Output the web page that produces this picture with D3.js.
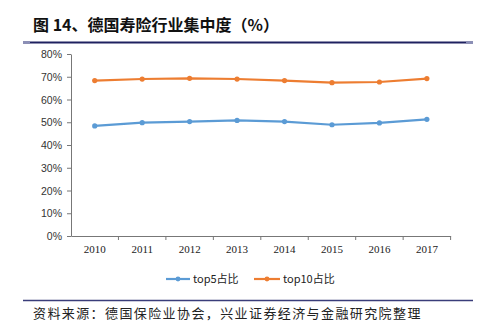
<!DOCTYPE html>
<html><head><meta charset="utf-8">
<script src="https://cdn.jsdelivr.net/npm/d3@7"></script>
<style>body{margin:0;background:#fff}svg{display:block}</style>
</head><body><svg id="c" width="483" height="328"></svg>
<script>
const years = ["2010","2011","2012","2013","2014","2015","2016","2017"];
const top5 = [48.4, 49.8, 50.3, 50.8, 50.3, 48.9, 49.7, 51.3];
const top10 = [68.3, 69.0, 69.3, 69.0, 68.3, 67.4, 67.7, 69.2];
const yTicks = [0,10,20,30,40,50,60,70,80];
const seriesNames = ["top5占比","top10占比"];
const colors = ["#5B9BD5","#ED7D31"];

const svg = d3.select("#c");
// title
svg.append("text").attr("x",33).attr("y",31)
  .attr("font-family","'Noto Sans CJK SC'").attr("font-weight","bold").attr("font-size",16)
  .attr("fill","#111").text("图 14、德国寿险行业集中度（%）");
svg.append("line").attr("x1",23).attr("x2",473).attr("y1",42.5).attr("y2",42.5)
  .attr("stroke","#1f2160").attr("stroke-width",2);
svg.append("line").attr("x1",23).attr("x2",30).attr("y1",42.5).attr("y2",42.5)
  .attr("stroke","#8a8fb8").attr("stroke-width",2);
svg.append("line").attr("x1",466).attr("x2",473).attr("y1",42.5).attr("y2",42.5)
  .attr("stroke","#8a8fb8").attr("stroke-width",2);

const x = d3.scaleBand().domain(years).range([71,450.6]);
const y = d3.scaleLinear().domain([0,80]).range([236,54]);

const yAxis = svg.append("g").attr("transform","translate(71,0)")
  .call(d3.axisLeft(y).tickValues(yTicks).tickFormat(d=>d+"%").tickSize(4).tickSizeOuter(0));
yAxis.select(".domain").attr("stroke","#777");
yAxis.selectAll(".tick line").attr("stroke","#777");
yAxis.selectAll("text").attr("font-family","'Liberation Sans',Arial").attr("font-size",10.5).attr("fill","#333").attr("x",-9).attr("dy","0.35em");

const xAxis = svg.append("g").attr("transform","translate(0,236)")
  .call(d3.axisBottom(x).tickSize(0).tickSizeOuter(0));
xAxis.select(".domain").attr("stroke","#777");
xAxis.selectAll("text").attr("font-family","'Liberation Serif','Times New Roman'").attr("font-size",11).attr("fill","#222").attr("y",9).attr("dy","0.71em");
// boundary ticks
const bounds = years.map(d=>x(d)+x.bandwidth());
svg.append("g").selectAll("line").data(bounds).join("line")
  .attr("x1",d=>d).attr("x2",d=>d).attr("y1",236).attr("y2",240).attr("stroke","#777");

const line = d3.line().x((d,i)=>x(years[i])+x.bandwidth()/2).y(d=>y(d));
[top5, top10].forEach((s,k)=>{
  svg.append("path").datum(s).attr("d",line).attr("fill","none").attr("stroke",colors[k]).attr("stroke-width",2.2);
  svg.append("g").selectAll("circle").data(s).join("circle")
    .attr("cx",(d,i)=>x(years[i])+x.bandwidth()/2).attr("cy",d=>y(d)).attr("r",2.6).attr("fill",colors[k]);
});

// legend
const lg = [{x1:166,x2:190,tx:193},{x1:254,x2:280,tx:283}];
lg.forEach((l,k)=>{
  svg.append("line").attr("x1",l.x1).attr("x2",l.x2).attr("y1",279).attr("y2",279).attr("stroke",colors[k]).attr("stroke-width",2.2);
  svg.append("circle").attr("cx",(l.x1+l.x2)/2).attr("cy",279).attr("r",2.4).attr("fill",colors[k]);
  svg.append("text").attr("x",l.tx).attr("y",283).attr("font-family","'Noto Sans CJK SC'").attr("font-size",11).attr("fill","#222").text(seriesNames[k]);
});

// source
svg.append("line").attr("x1",23).attr("x2",473).attr("y1",300.5).attr("y2",300.5).attr("stroke","#3a3d7a").attr("stroke-width",1.5);
svg.append("text").attr("x",33).attr("y",318).attr("font-family","'Noto Sans CJK SC'").attr("font-size",13).attr("letter-spacing",1.4)
  .attr("fill","#222").text("资料来源：德国保险业协会，兴业证券经济与金融研究院整理");
</script></body></html>
